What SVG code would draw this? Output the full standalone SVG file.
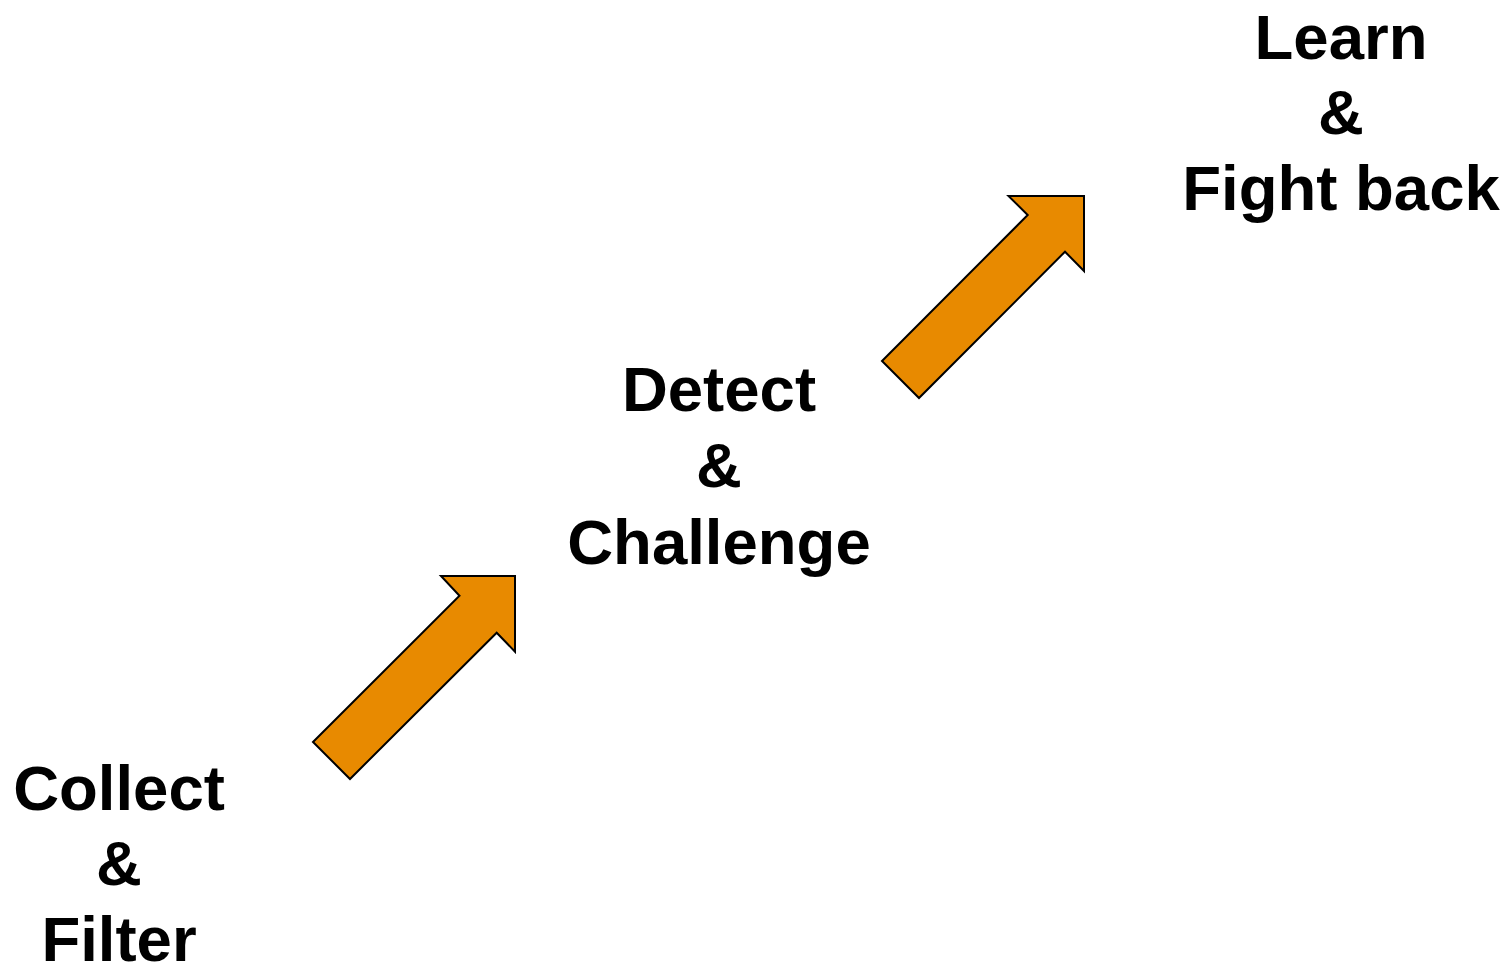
<svg xmlns="http://www.w3.org/2000/svg" width="1507" height="966" viewBox="0 0 1507 966">
<style>
.lbl{font-family:"Liberation Sans",Arial,sans-serif;font-weight:bold;font-size:63.5px;fill:#000;text-anchor:middle}
.arr{fill:#E88A00;stroke:#000;stroke-width:2;stroke-linejoin:miter}
</style>
<rect width="1507" height="966" fill="#fff"/>
<g id="node-collect">
<text class="lbl" x="119" y="810">Collect</text>
<text class="lbl" x="119" y="885">&amp;</text>
<text class="lbl" x="119" y="961">Filter</text>
</g>
<g id="node-detect">
<text class="lbl" x="719" y="411">Detect</text>
<text class="lbl" x="719" y="487">&amp;</text>
<text class="lbl" x="719" y="564">Challenge</text>
</g>
<g id="node-learn">
<text class="lbl" x="1341" y="59">Learn</text>
<text class="lbl" x="1341" y="134">&amp;</text>
<text class="lbl" x="1341" y="210">Fight back</text>
</g>
<g id="connectors">
<polygon class="arr" points="313,742 459.5,595.7 441,576 515,576 515,651.7 496.7,632.7 350,779"/>
<polygon class="arr" points="882,361 1027.7,215 1008.5,196 1084,196 1084,271 1065,251.7 919,398"/>
</g>
</svg>
